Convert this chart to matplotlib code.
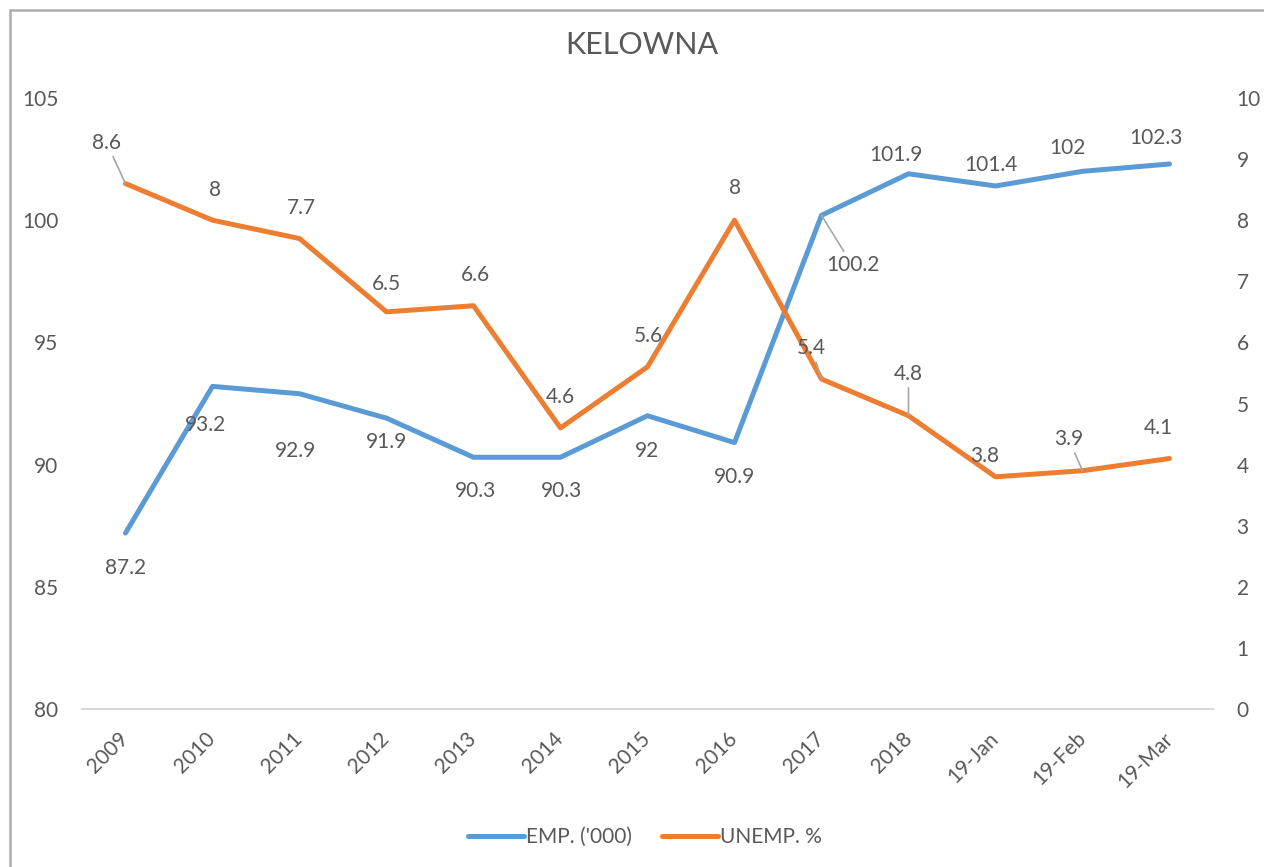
import matplotlib
matplotlib.use("Agg")
import matplotlib.pyplot as plt
from matplotlib.lines import Line2D
from matplotlib.patches import Rectangle

plt.rcParams['font.family'] = ['Lato', 'DejaVu Sans']

# data
categories = ['2009', '2010', '2011', '2012', '2013', '2014', '2015', '2016',
              '2017', '2018', '19-Jan', '19-Feb', '19-Mar']
emp = [87.2, 93.2, 92.9, 91.9, 90.3, 90.3, 92, 90.9, 100.2, 101.9, 101.4, 102, 102.3]
unemp = [8.6, 8, 7.7, 6.5, 6.6, 4.6, 5.6, 8, 5.4, 4.8, 3.8, 3.9, 4.1]

# label offsets in pixels (dx, dy with y down), like the Excel placement
emp_off = [(0, 35), (-7, 39), (-4, 57), (0, 24), (2, 34), (1, 34), (0, 35), (0, 34),
           (31, 50), (-13, -19), (-5, -21), (-15, -23), (-14, -26)]
unemp_off = [(-19, -41), (2, -30), (2, -31), (0, -28), (2, -31), (0, -31), (1, -31),
             (0, -32), (-10, -31), (0, -42), (-11, -21), (-14, -32), (-11, -30)]
emp_leader = [8]
unemp_leader = [0, 8, 9, 11]

BLUE = '#5B9BD5'
ORANGE = '#ED7D31'
TXT = '#595959'
LEAD = '#A6A6A6'
FS = 15

fig = plt.figure(figsize=(12.64, 8.67), dpi=100)
ax = fig.add_axes([82 / 1264, 1 - 709 / 867, (1213 - 82) / 1264, (709 - 98) / 867])
ax2 = ax.twinx()

x = list(range(len(categories)))
ax.plot(x, emp, color=BLUE, lw=3.6, solid_capstyle='round', solid_joinstyle='round')
ax2.plot(x, unemp, color=ORANGE, lw=3.6, solid_capstyle='round', solid_joinstyle='round')

ax.set_xlim(-0.5, len(categories) - 0.5)
ax.set_ylim(80, 105)
ax2.set_ylim(0, 10)
ax.set_yticks(range(80, 106, 5))
ax2.set_yticks(range(0, 11))

for a in (ax, ax2):
    for s in a.spines.values():
        s.set_visible(False)
    a.tick_params(length=0, labelsize=FS, labelcolor=TXT)
ax.spines['bottom'].set_visible(True)
ax.spines['bottom'].set_color('#D9D9D9')
ax.spines['bottom'].set_linewidth(1.5)
ax.tick_params(axis='y', pad=17)
ax2.tick_params(axis='y', pad=17)

ax.set_xticks(x)
ax.set_xticklabels(categories, rotation=45, ha='right', va='center',
                   rotation_mode='anchor')
ax.tick_params(axis='x', pad=19)


def label(vals, offs, leaders, trans):
    for i, (v, (dx, dy)) in enumerate(zip(vals, offs)):
        kw = {}
        if i in leaders:
            kw['arrowprops'] = dict(arrowstyle='-', color=LEAD, lw=1.2,
                                    shrinkA=1, shrinkB=0)
        ax2.annotate(f'{v:g}', xy=(i, v), xycoords=trans, xytext=(dx, -dy),
                     textcoords='offset pixels', ha='center', va='center',
                     fontsize=FS, color=TXT, zorder=5, **kw)


label(emp, emp_off, emp_leader, ax.transData)
label(unemp, unemp_off, unemp_leader, ax2.transData)

fig.text(642 / 1264, 1 - 45 / 867, 'KELOWNA', ha='center', va='center',
         fontsize=22, color=TXT)

handles = [Line2D([], [], color=BLUE, lw=3.6, solid_capstyle='round'),
           Line2D([], [], color=ORANGE, lw=3.6, solid_capstyle='round')]
leg = fig.legend(handles, ["EMP. ('000)", 'UNEMP. %'], loc='center',
                 bbox_to_anchor=(645 / 1264, 1 - 837 / 867), ncol=2, frameon=False,
                 fontsize=FS, handlelength=2.7, handletextpad=0.1, columnspacing=1.4)
for t in leg.get_texts():
    t.set_color(TXT)

# chart area border (right/bottom edges fall outside the picture)
fig.patches.append(Rectangle((10 / 1264, -0.1), 1.2, 1.1 - 10 / 867 + 0.0,
                             transform=fig.transFigure, fill=False,
                             edgecolor='#ADADAD', lw=1.8))

fig.savefig('out.png', dpi=100)
